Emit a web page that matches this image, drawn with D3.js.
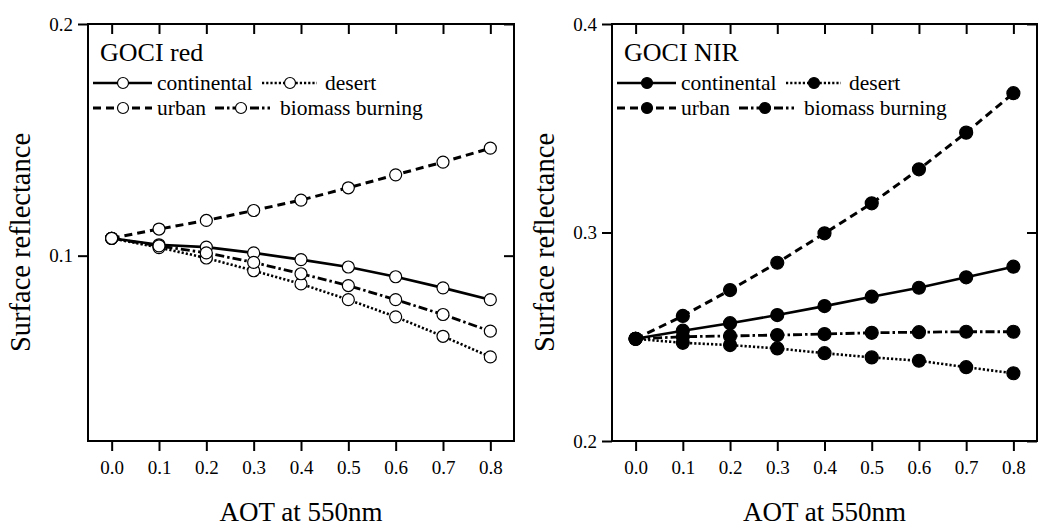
<!DOCTYPE html>
<html><head><meta charset="utf-8">
<script src="https://cdn.jsdelivr.net/npm/d3@7"></script>
<style>
body{margin:0;background:#fff}
svg{display:block}
text{font-family:"Liberation Serif","Times New Roman",serif;fill:#000}
</style>
</head><body>
<svg id="c" width="1055" height="530"></svg>
<script>
// ---- data ----
const aot = [0.0, 0.1, 0.2, 0.3, 0.4, 0.5, 0.6, 0.7, 0.8];
const xTickLabels = ["0.0","0.1","0.2","0.3","0.4","0.5","0.6","0.7","0.8"];
const seriesNames = ["continental", "desert", "urban", "biomass burning"];

const redContinental = [0.1075, 0.1047, 0.1037, 0.1012, 0.0983, 0.0951, 0.0909, 0.0861, 0.0810];
const redDesert      = [0.1075, 0.1035, 0.0990, 0.0935, 0.0878, 0.0810, 0.0736, 0.0652, 0.0563];
const redUrban       = [0.1075, 0.1115, 0.1152, 0.1195, 0.1240, 0.1293, 0.1349, 0.1404, 0.1464];
const redBiomass     = [0.1075, 0.1042, 0.1012, 0.0971, 0.0922, 0.0871, 0.0810, 0.0746, 0.0674];

const nirContinental = [0.2490, 0.2529, 0.2565, 0.2604, 0.2647, 0.2692, 0.2735, 0.2785, 0.2836];
const nirDesert      = [0.2490, 0.2471, 0.2460, 0.2444, 0.2421, 0.2401, 0.2385, 0.2354, 0.2325];
const nirUrban       = [0.2490, 0.2600, 0.2724, 0.2855, 0.2996, 0.3140, 0.3303, 0.3479, 0.3668];
const nirBiomass     = [0.2490, 0.2500, 0.2504, 0.2508, 0.2513, 0.2519, 0.2522, 0.2524, 0.2524];

const redYTicks = [0.1, 0.2];
const nirYTicks = [0.2, 0.3, 0.4];
const redYDomain = [0.02, 0.2];
const nirYDomain = [0.2, 0.4];
const xDomain = [-0.05, 0.85];

// ---- styles ----
const lineStyles = {
  "continental":     {dash: null,            width: 2.6},
  "desert":          {dash: "2.2,2",         width: 2.6},
  "urban":           {dash: "8,5",           width: 3},
  "biomass burning": {dash: "9,3,2.5,3",     width: 2.8}
};

const svg = d3.select("#c");
const TOP = 24, BOTTOM = 441;
const SERIF = '"Liberation Serif","Times New Roman",serif';

function drawPanel(opt) {
  const {left, right, yDomain, yTicks, title, series, filled} = opt;
  const g = svg.append("g");
  const x = d3.scaleLinear().domain(xDomain).range([left, right]);
  const y = d3.scaleLinear().domain(yDomain).range([BOTTOM, TOP]);

  const bx = g.append("g").attr("transform", `translate(0,${BOTTOM})`)
    .call(d3.axisBottom(x).tickValues(aot).tickSize(10).tickPadding(10)
      .tickFormat((d, i) => xTickLabels[i]));
  const tx = g.append("g").attr("transform", `translate(0,${TOP})`)
    .call(d3.axisBottom(x).tickValues(aot).tickSize(10).tickFormat(""));
  const ly = g.append("g").attr("transform", `translate(${left},0)`)
    .call(d3.axisLeft(y).tickValues(yTicks).tickSize(10).tickPadding(5)
      .tickFormat(d3.format(".1f")));
  const ry = g.append("g").attr("transform", `translate(${right},0)`)
    .call(d3.axisLeft(y).tickValues(yTicks).tickSize(10).tickFormat(""));
  [bx, tx, ly, ry].forEach(a => {
    a.attr("font-family", SERIF).attr("font-size", 19);
    a.select(".domain").remove();
    a.selectAll(".tick line").attr("stroke", "#000").attr("stroke-width", 2);
    a.selectAll(".tick text").attr("fill", "#000");
  });

  g.append("rect").attr("x", left).attr("y", TOP)
    .attr("width", right - left).attr("height", BOTTOM - TOP)
    .attr("fill", "none").attr("stroke", "#000").attr("stroke-width", 2);

  const line = d3.line().x((d, i) => x(aot[i])).y(d => y(d));
  series.forEach(s => {
    const st = lineStyles[s.name];
    g.append("path").datum(s.values).attr("d", line)
      .attr("fill", "none").attr("stroke", "#000")
      .attr("stroke-width", st.width)
      .attr("stroke-dasharray", st.dash);
  });
  series.forEach(s => {
    g.selectAll(null).data(s.values).enter().append("circle")
      .attr("cx", (d, i) => x(aot[i])).attr("cy", d => y(d))
      .attr("r", filled ? 6.5 : 6)
      .attr("fill", filled ? "#000" : "#fff")
      .attr("stroke", "#000").attr("stroke-width", 1.2);
  });

  g.append("text").attr("x", (left + right) / 2).attr("y", 521)
    .attr("text-anchor", "middle").attr("font-size", 27).text("AOT at 550nm");
  g.append("text").attr("transform", `translate(${left - 58},${(TOP + BOTTOM) / 2 + 10}) rotate(-90)`)
    .attr("text-anchor", "middle").attr("font-size", 28.5).text("Surface reflectance");

  g.append("text").attr("x", left + 12).attr("y", 61).attr("font-size", 26).text(title);
  const legendItems = [
    {name: "continental",     y: 83,  x0: 5,   x1: 64,  m: 35,  tx: 69},
    {name: "desert",          y: 83,  x0: 174, x1: 229, m: 202, tx: 237},
    {name: "urban",           y: 108, x0: 5,   x1: 64,  m: 35,  tx: 69},
    {name: "biomass burning", y: 108, x0: 127, x1: 182, m: 153, tx: 192}
  ];
  legendItems.forEach(it => {
    const st = lineStyles[it.name];
    g.append("line").attr("x1", left + it.x0).attr("x2", left + it.x1)
      .attr("y1", it.y).attr("y2", it.y)
      .attr("stroke", "#000").attr("stroke-width", st.width)
      .attr("stroke-dasharray", st.dash);
    g.append("circle").attr("cx", left + it.m).attr("cy", it.y)
      .attr("r", 5.5)
      .attr("fill", filled ? "#000" : "#fff")
      .attr("stroke", "#000").attr("stroke-width", 1.2);
    g.append("text").attr("x", left + it.tx).attr("y", it.y + 7)
      .attr("font-size", 21.5).text(it.name);
  });
}

drawPanel({
  left: 88, right: 514, yDomain: redYDomain, yTicks: redYTicks, title: "GOCI red", filled: false,
  series: [
    {name: seriesNames[0], values: redContinental},
    {name: seriesNames[1], values: redDesert},
    {name: seriesNames[2], values: redUrban},
    {name: seriesNames[3], values: redBiomass}
  ]
});
drawPanel({
  left: 612, right: 1037, yDomain: nirYDomain, yTicks: nirYTicks, title: "GOCI NIR", filled: true,
  series: [
    {name: seriesNames[0], values: nirContinental},
    {name: seriesNames[1], values: nirDesert},
    {name: seriesNames[2], values: nirUrban},
    {name: seriesNames[3], values: nirBiomass}
  ]
});
</script>
</body></html>
